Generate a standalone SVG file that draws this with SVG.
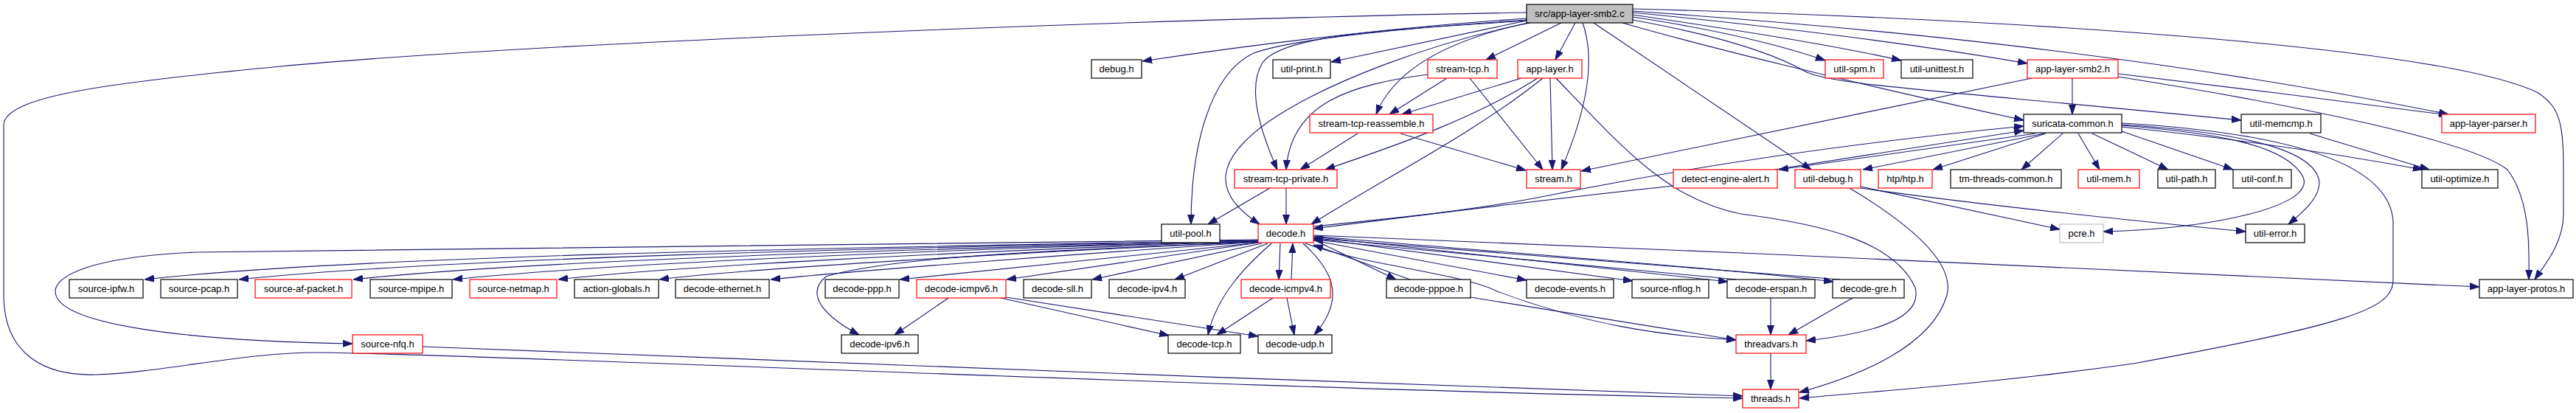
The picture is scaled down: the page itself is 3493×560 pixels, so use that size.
<svg xmlns="http://www.w3.org/2000/svg" width="3493" height="560" viewBox="0 0 3493 560">
<style>
.n rect{fill:#fff;stroke:#000;stroke-width:1.2}
.n.r rect{stroke:#ff0000}
.n.g rect{stroke:#bfbfbf}
.n.t rect{fill:#bfbfbf}
.n text{font-family:"Liberation Sans",Arial,sans-serif;font-size:13px;fill:#000;text-anchor:middle}
#edges path{fill:none;stroke:#191970;stroke-width:1.1;marker-end:url(#ah)}
</style>
<defs>
<marker id="ah" markerUnits="userSpaceOnUse" markerWidth="13" markerHeight="10" refX="13" refY="5" orient="auto" viewBox="0 0 13 10">
<path d="M0,0.5 L13,5 L0,9.5 z" fill="#191970" stroke="#191970" stroke-width="1"/>
</marker>
</defs>
<rect width="3493" height="560" fill="#fff"/>
<g id="edges">
<path d="M2070,17 C1500,27 700,60 380,90 C150,112 5,130 5,170 L5,400 C5,480 60,510 130,508 C220,505 330,478 430,478 C600,478 1700,528 2363,540"/>
<path d="M2070,25 C1900,36 1700,60 1549,83"/>
<path d="M2070,28 L1805,84"/>
<path d="M2070,27 C1950,35 1760,50 1700,72 C1640,100 1615,200 1615,304"/>
<path d="M2070,28 C1900,40 1740,45 1712,85 C1690,120 1710,180 1732,230"/>
<path d="M2075,31 C1950,55 1800,110 1720,165 C1650,215 1640,260 1708,304"/>
<path d="M2072,31 C1960,55 1890,95 1866,155"/>
<path d="M2117,31 L2015,81"/>
<path d="M2136,31 L2109,81"/>
<path d="M2146,31 C2160,70 2160,130 2117,230"/>
<path d="M2161,31 L2456,230"/>
<path d="M2200,31 C2300,60 2500,110 2744,163"/>
<path d="M2214,27 C2340,50 2410,75 2450,98 C2490,115 2600,120 3039,163"/>
<path d="M2214,23 C2300,36 2400,56 2475,82"/>
<path d="M2214,20 C2350,40 2480,60 2578,82"/>
<path d="M2214,17 C2400,35 2600,60 2749,86"/>
<path d="M2214,15 C2500,35 2900,70 3320,155"/>
<path d="M2214,12 C2700,25 3300,60 3440,125 C3480,150 3476,180 3476,290 C3476,330 3450,360 3437,379"/>
<path d="M1962,106 L1884,155"/>
<path d="M1993,106 L2092,230"/>
<path d="M1936,101 C1830,115 1750,140 1744,230"/>
<path d="M2063,106 L1901,155"/>
<path d="M2085,106 C2000,160 1900,195 1797,230"/>
<path d="M2092,106 C2000,180 1880,240 1778,304"/>
<path d="M2102,106 L2105,230"/>
<path d="M2110,106 C2200,200 2260,270 2360,290 C2480,305 2570,330 2597,390 C2610,440 2510,455 2449,462"/>
<path d="M1899,181 L2069,231"/>
<path d="M1841,181 L1763,230"/>
<path d="M1722,255 L1638,304"/>
<path d="M1744,255 L1744,304"/>
<path d="M2755,106 L2144,232"/>
<path d="M2810,106 L2810,155"/>
<path d="M2872,100 C3000,115 3200,140 3320,156"/>
<path d="M2872,104 C3100,140 3350,190 3400,230 C3430,270 3430,330 3429,379"/>
<path d="M3132,181 L3294,230"/>
<path d="M2760,181 L2412,230"/>
<path d="M2772,181 L2526,230"/>
<path d="M2774,181 L2621,230"/>
<path d="M2797,181 L2741,230"/>
<path d="M2818,181 L2847,230"/>
<path d="M2837,181 L2940,230"/>
<path d="M2877,178 L3028,230"/>
<path d="M2877,172 C3000,185 3150,205 3285,230"/>
<path d="M2877,170 C3000,180 3100,195 3123,240 C3140,280 3000,310 2852,314"/>
<path d="M2877,169 C3050,180 3140,205 3145,247 C3145,270 3120,290 3103,304"/>
<path d="M2877,167 C3100,180 3240,220 3245,300 L3245,380 C3245,420 3180,440 2893,493 C2700,520 2550,530 2440,540"/>
<path d="M2406,230 L2744,177"/>
<path d="M2269,252 C2100,270 1900,295 1781,310"/>
<path d="M1781,307 C1900,295 2000,285 2100,265 C2300,225 2500,195 2744,171"/>
<path d="M2508,255 C2600,310 2650,360 2640,400 C2620,470 2520,510 2440,532"/>
<path d="M2523,253 L2793,311"/>
<path d="M2523,255 C2700,280 2900,300 3045,314"/>
<path d="M1706,326 C1200,335 500,345 196,379"/>
<path d="M1706,326 C1200,336 600,350 324,379"/>
<path d="M1706,327 C1200,338 700,355 479,379"/>
<path d="M1706,327 C1200,340 800,360 614,379"/>
<path d="M1706,327 C1300,341 900,362 757,379"/>
<path d="M1706,328 C1400,341 1000,365 894,379"/>
<path d="M1706,328 C1450,345 1150,368 1045,379"/>
<path d="M1706,329 L1220,379"/>
<path d="M1706,328 C1400,340 1200,350 1120,375 C1090,400 1120,430 1165,454"/>
<path d="M1706,329 L1365,379"/>
<path d="M1711,330 L1481,379"/>
<path d="M1719,330 L1593,379"/>
<path d="M1724,330 C1690,360 1650,400 1638,454"/>
<path d="M1736,330 L1734,379"/>
<path d="M1767,330 C1800,360 1830,400 1782,454"/>
<path d="M1781,325 L1893,379"/>
<path d="M1781,326 L2070,380"/>
<path d="M1781,323 L2214,381"/>
<path d="M1781,321 L2343,382"/>
<path d="M1781,320 C2000,340 2300,360 2486,382"/>
<path d="M1781,319 C2300,340 2900,365 3362,389"/>
<path d="M1770,330 C1850,360 1980,370 2030,395 C2150,440 2250,455 2354,461"/>
<path d="M1706,325 C1200,330 700,333 268,342 C120,348 75,375 75,395 C75,440 250,462 478,466"/>
<path d="M1751,379 L1753,330"/>
<path d="M1726,404 L1650,454"/>
<path d="M1745,404 L1755,454"/>
<path d="M1286,404 L1213,454"/>
<path d="M1357,404 L1585,455"/>
<path d="M1364,403 L1706,456"/>
<path d="M1912,379 L1781,332"/>
<path d="M1994,403 L2354,461"/>
<path d="M2355,379 L1781,325"/>
<path d="M2495,379 L1781,323"/>
<path d="M2401,404 L2401,454"/>
<path d="M2512,404 L2425,454"/>
<path d="M2401,479 L2401,528"/>
<path d="M573,470 C900,480 1800,520 2363,537"/>
</g>
<g id="n_top" class="n t"><rect x="2070" y="6" width="144" height="25"/><text x="2142" y="23">src/app-layer-smb2.c</text></g>
<g id="n_debug" class="n"><rect x="1480" y="81" width="68" height="25"/><text x="1514" y="98">debug.h</text></g>
<g id="n_utilprint" class="n"><rect x="1726" y="81" width="78" height="25"/><text x="1765" y="98">util-print.h</text></g>
<g id="n_streamtcp" class="n r"><rect x="1936" y="81" width="94" height="25"/><text x="1983" y="98">stream-tcp.h</text></g>
<g id="n_applayer" class="n r"><rect x="2058" y="81" width="87" height="25"/><text x="2101.5" y="98">app-layer.h</text></g>
<g id="n_utilspm" class="n r"><rect x="2475" y="81" width="79" height="25"/><text x="2514.5" y="98">util-spm.h</text></g>
<g id="n_utilunittest" class="n"><rect x="2578" y="81" width="97" height="25"/><text x="2626.5" y="98">util-unittest.h</text></g>
<g id="n_applayersmb2h" class="n r"><rect x="2749" y="81" width="123" height="25"/><text x="2810.5" y="98">app-layer-smb2.h</text></g>
<g id="n_streamtcpreassemble" class="n r"><rect x="1776" y="155" width="167" height="25"/><text x="1859.5" y="172">stream-tcp-reassemble.h</text></g>
<g id="n_suricatacommon" class="n"><rect x="2744" y="155" width="133" height="25"/><text x="2810.5" y="172">suricata-common.h</text></g>
<g id="n_utilmemcmp" class="n"><rect x="3039" y="155" width="108" height="25"/><text x="3093" y="172">util-memcmp.h</text></g>
<g id="n_applayerparser" class="n r"><rect x="3311" y="155" width="127" height="25"/><text x="3374.5" y="172">app-layer-parser.h</text></g>
<g id="n_streamtcpprivate" class="n r"><rect x="1674" y="230" width="139" height="25"/><text x="1743.5" y="247">stream-tcp-private.h</text></g>
<g id="n_stream" class="n r"><rect x="2070" y="230" width="73" height="25"/><text x="2106.5" y="247">stream.h</text></g>
<g id="n_detectenginealert" class="n r"><rect x="2269" y="230" width="141" height="25"/><text x="2339.5" y="247">detect-engine-alert.h</text></g>
<g id="n_utildebug" class="n r"><rect x="2434" y="230" width="89" height="25"/><text x="2478.5" y="247">util-debug.h</text></g>
<g id="n_htp" class="n r"><rect x="2547" y="230" width="73" height="25"/><text x="2583.5" y="247">htp/htp.h</text></g>
<g id="n_tmthreadscommon" class="n"><rect x="2645" y="230" width="150" height="25"/><text x="2720" y="247">tm-threads-common.h</text></g>
<g id="n_utilmem" class="n r"><rect x="2818" y="230" width="83" height="25"/><text x="2859.5" y="247">util-mem.h</text></g>
<g id="n_utilpath" class="n"><rect x="2926" y="230" width="78" height="25"/><text x="2965" y="247">util-path.h</text></g>
<g id="n_utilconf" class="n"><rect x="3028" y="230" width="79" height="25"/><text x="3067.5" y="247">util-conf.h</text></g>
<g id="n_utiloptimize" class="n"><rect x="3284" y="230" width="103" height="25"/><text x="3335.5" y="247">util-optimize.h</text></g>
<g id="n_utilpool" class="n"><rect x="1575" y="304" width="79" height="25"/><text x="1614.5" y="321">util-pool.h</text></g>
<g id="n_decode" class="n r"><rect x="1706" y="304" width="75" height="25"/><text x="1743.5" y="321">decode.h</text></g>
<g id="n_pcre" class="n g"><rect x="2793" y="304" width="59" height="25"/><text x="2822.5" y="321">pcre.h</text></g>
<g id="n_utilerror" class="n"><rect x="3045" y="304" width="80" height="25"/><text x="3085" y="321">util-error.h</text></g>
<g id="n_sourceipfw" class="n"><rect x="94" y="379" width="100" height="25"/><text x="144" y="396">source-ipfw.h</text></g>
<g id="n_sourcepcap" class="n"><rect x="218" y="379" width="104" height="25"/><text x="270" y="396">source-pcap.h</text></g>
<g id="n_sourceafpacket" class="n r"><rect x="346" y="379" width="131" height="25"/><text x="411.5" y="396">source-af-packet.h</text></g>
<g id="n_sourcempipe" class="n"><rect x="502" y="379" width="111" height="25"/><text x="557.5" y="396">source-mpipe.h</text></g>
<g id="n_sourcenetmap" class="n r"><rect x="637" y="379" width="118" height="25"/><text x="696" y="396">source-netmap.h</text></g>
<g id="n_actionglobals" class="n"><rect x="779" y="379" width="114" height="25"/><text x="836" y="396">action-globals.h</text></g>
<g id="n_decodeethernet" class="n"><rect x="916" y="379" width="127" height="25"/><text x="979.5" y="396">decode-ethernet.h</text></g>
<g id="n_decodeppp" class="n"><rect x="1119" y="379" width="100" height="25"/><text x="1169" y="396">decode-ppp.h</text></g>
<g id="n_decodeicmpv6" class="n r"><rect x="1243" y="379" width="121" height="25"/><text x="1303.5" y="396">decode-icmpv6.h</text></g>
<g id="n_decodesll" class="n"><rect x="1388" y="379" width="92" height="25"/><text x="1434" y="396">decode-sll.h</text></g>
<g id="n_decodeipv4" class="n"><rect x="1504" y="379" width="103" height="25"/><text x="1555.5" y="396">decode-ipv4.h</text></g>
<g id="n_decodeicmpv4" class="n r"><rect x="1683" y="379" width="121" height="25"/><text x="1743.5" y="396">decode-icmpv4.h</text></g>
<g id="n_decodepppoe" class="n"><rect x="1880" y="379" width="114" height="25"/><text x="1937" y="396">decode-pppoe.h</text></g>
<g id="n_decodeevents" class="n"><rect x="2070" y="379" width="118" height="25"/><text x="2129" y="396">decode-events.h</text></g>
<g id="n_sourcenflog" class="n"><rect x="2213" y="379" width="104" height="25"/><text x="2265" y="396">source-nflog.h</text></g>
<g id="n_decodeerspan" class="n"><rect x="2342" y="379" width="119" height="25"/><text x="2401.5" y="396">decode-erspan.h</text></g>
<g id="n_decodegre" class="n"><rect x="2485" y="379" width="97" height="25"/><text x="2533.5" y="396">decode-gre.h</text></g>
<g id="n_applayerprotos" class="n"><rect x="3362" y="379" width="127" height="25"/><text x="3425.5" y="396">app-layer-protos.h</text></g>
<g id="n_sourcenfq" class="n r"><rect x="478" y="454" width="95" height="25"/><text x="525.5" y="471">source-nfq.h</text></g>
<g id="n_decodeipv6" class="n"><rect x="1141" y="454" width="104" height="25"/><text x="1193" y="471">decode-ipv6.h</text></g>
<g id="n_decodetcp" class="n"><rect x="1584" y="454" width="98" height="25"/><text x="1633" y="471">decode-tcp.h</text></g>
<g id="n_decodeudp" class="n"><rect x="1706" y="454" width="100" height="25"/><text x="1756" y="471">decode-udp.h</text></g>
<g id="n_threadvars" class="n r"><rect x="2354" y="454" width="95" height="25"/><text x="2401.5" y="471">threadvars.h</text></g>
<g id="n_threads" class="n r"><rect x="2363" y="528" width="76" height="25"/><text x="2401" y="545">threads.h</text></g>
</svg>
